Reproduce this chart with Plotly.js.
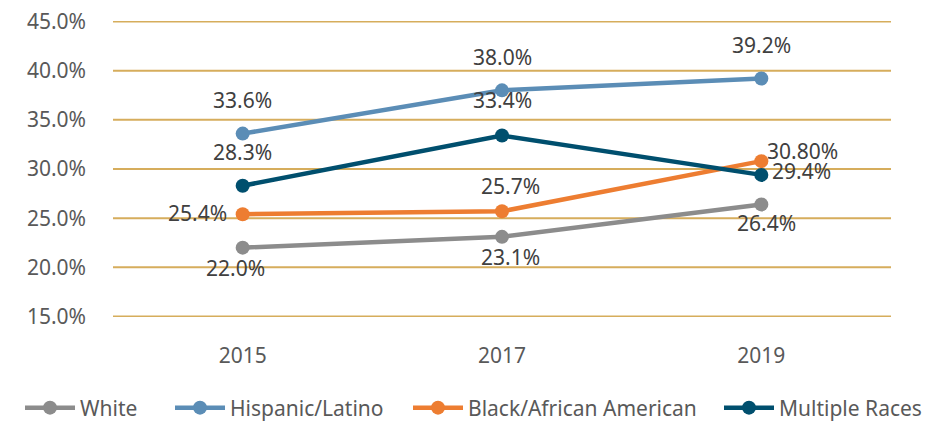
<!DOCTYPE html>
<html><head><meta charset="utf-8">
<script src="https://cdn.plot.ly/plotly-3.0.1.min.js"></script>
<style>html,body{margin:0;padding:0;background:#fff}#chart{width:929px;height:421px}</style>
</head><body><div id="chart"></div>
<script>
const years = ["2015", "2017", "2019"];
const seriesNames = ["White", "Hispanic/Latino", "Black/African American", "Multiple Races"];
const white = [22.0, 23.1, 26.4];
const hispanic = [33.6, 38.0, 39.2];
const black = [25.4, 25.7, 30.8];
const multiple = [28.3, 33.4, 29.4];
const whiteLabels = ["22.0%", "23.1%", "26.4%"];
const hispanicLabels = ["33.6%", "38.0%", "39.2%"];
const blackLabels = ["25.4%", "25.7%", "30.80%"];
const multipleLabels = ["28.3%", "33.4%", "29.4%"];
const yTicks = [15, 20, 25, 30, 35, 40, 45];

const colors = ["#8c8c8c", "#5b8db6", "#ed7d31", "#004f6e"];
const values = [white, hispanic, black, multiple];
const labels = [whiteLabels, hispanicLabels, blackLabels, multipleLabels];
// label placement styles: [xanchor, xshift, yshift] per point
const place = [
  [["center", -7, -20], ["center", 8, -20], ["center", 5, -19]],
  [["center", 0, 34], ["center", 0, 33], ["center", 0, 34]],
  [["right", -14, 1], ["center", 8, 25], ["left", 4, 10]],
  [["center", 0, 34], ["center", 0, 36], ["left", 9, 4]]
];
const legendX = [25, 175, 413, 724];
const FONT = "Noto Sans";

const traces = values.map((v, i) => ({
  x: years, y: v, type: "scatter", mode: "lines+markers", name: seriesNames[i],
  line: {color: colors[i], width: 4.5},
  marker: {color: colors[i], size: 14},
  legend: i === 0 ? "legend" : "legend" + (i + 1),
  hoverinfo: "skip", cliponaxis: false
}));

const annotations = [];
values.forEach((v, i) => v.forEach((val, j) => {
  annotations.push({
    x: j, y: val, xref: "x", yref: "y", text: labels[i][j], showarrow: false,
    xanchor: place[i][j][0], yanchor: "middle", xshift: place[i][j][1], yshift: place[i][j][2],
    font: {family: FONT, size: 21, color: "#404040"}
  });
}));

const shapes = yTicks.map(t => ({
  type: "line", xref: "paper", yref: "y", x0: 0, x1: 1, y0: t, y1: t, layer: "below",
  line: {color: "#d6ad5c", width: 2}
}));

const layout = {
  width: 929, height: 421,
  margin: {l: 113, r: 38, t: 21, b: 104},
  paper_bgcolor: "#fff", plot_bgcolor: "#fff",
  font: {family: FONT, size: 21, color: "#595959"},
  xaxis: {type: "category", range: [-0.5, 2.5], showgrid: false, zeroline: false, showline: false,
          ticks: "", ticklabelstandoff: 24, tickfont: {family: FONT, size: 21, color: "#595959"}},
  yaxis: {range: [14.95, 45.05], tickvals: yTicks, ticktext: yTicks.map(t => t.toFixed(1) + "%"),
          showgrid: false, zeroline: false, showline: false,
          ticks: "", ticklabelstandoff: 26, tickfont: {family: FONT, size: 21, color: "#595959"}},
  shapes: shapes,
  annotations: annotations,
  showlegend: true
};
legendX.forEach((lx, i) => {
  const key = i === 0 ? "legend" : "legend" + (i + 1);
  layout[key] = {orientation: "h", xref: "container", yref: "container", x: (lx - 5) / 929, y: 13 / 421,
    xanchor: "left", yanchor: "middle", font: {family: FONT, size: 21, color: "#595959"}, bgcolor: "rgba(0,0,0,0)",
    itemwidth: 50};
});

Plotly.newPlot("chart", traces, layout, {displayModeBar: false});
</script></body></html>
